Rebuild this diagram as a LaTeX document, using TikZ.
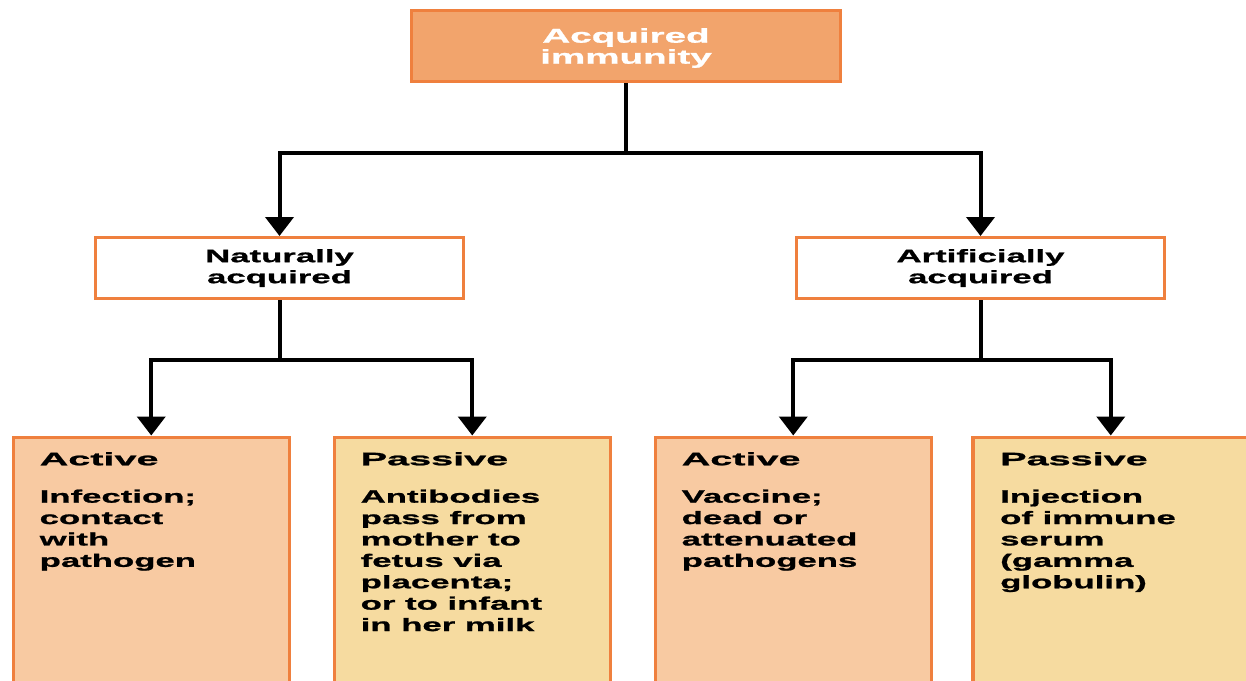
\documentclass[tikz,border=0pt]{standalone}
\usepackage{fontspec}
\newfontfamily\wfb{Liberation Sans Bold}[FakeStretch=1.93,FakeBold=1.2]
\newfontfamily\wfbt{Liberation Sans Bold}[FakeStretch=2.2,FakeBold=1.3]
\usetikzlibrary{arrows.meta,calc}
\definecolor{topfill}{HTML}{F2A46C}
\definecolor{orbrd}{HTML}{EF803E}
\definecolor{peach}{HTML}{F8CAA2}
\definecolor{yell}{HTML}{F6DBA0}
\begin{document}
\begin{tikzpicture}[x=1pt,y=-1pt,
  topbox/.style={draw=orbrd,line width=3pt,fill=topfill,minimum width=429pt,minimum height=71pt,inner sep=0pt},
  midbox/.style={draw=orbrd,line width=3pt,fill=white,minimum width=368pt,minimum height=61pt,inner sep=0pt,
    align=center,font=\wfb\fontsize{18}{21}\selectfont},
  lowbox/.style={draw=orbrd,line width=3.5pt,minimum width=276pt,minimum height=280pt,inner sep=0pt,anchor=north west},
  lowtext/.style={anchor=north west,inner sep=0pt,align=left,font=\wfb\fontsize{18}{21.4}\selectfont},
  conn/.style={line width=4pt},
  arr/.style={line width=4pt,-{Triangle[width=28pt,length=19pt]}}]
\clip (0,0) rectangle (1246,680);
\fill[white] (0,0) rectangle (1246,680);
% top
\node[topbox] (top) at (626,46) {};
\node[text=white,align=center,inner sep=0pt,font=\wfb\fontsize{20}{21}\selectfont] (toptext) at (626,48) {Acquired\\immunity};
% middle
\node[midbox] (nat) at (279.5,268) {Naturally\\acquired};
\node[midbox] (art) at (980.5,268) {Artificially\\acquired};
% bottom boxes
\node[lowbox,fill=peach] (b1) at (11.5,435.5) {};
\node[lowbox,fill=yell]  (b2) at (332.5,435.5) {};
\node[lowbox,fill=peach] (b3) at (653.5,435.5) {};
\node[lowbox,fill=yell]  (b4) at (971,435.5) {};
% texts
\node[lowtext] (t1) at ($(b1.north west)+(28,16.5)$) {{\wfbt Active}\\[16pt]Infection;\\contact\\with\\pathogen};
\node[lowtext] (t2) at ($(b2.north west)+(28,16.5)$) {{\wfbt Passive}\\[16pt]Antibodies\\pass from\\mother to\\fetus via\\placenta;\\or to infant\\in her milk};
\node[lowtext] (t3) at ($(b3.north west)+(28,16.5)$) {{\wfbt Active}\\[16pt]Vaccine;\\dead or\\attenuated\\pathogens};
\node[lowtext] (t4) at ($(b4.north west)+(29,16.5)$) {{\wfbt Passive}\\[16pt]Injection\\of immune\\serum\\(gamma\\globulin)};
% connectors
\coordinate (j1) at ($(top.south)+(0,70)$);
\draw[conn] (top.south) -- (j1);
\draw[arr] (j1) -| (nat.north);
\draw[arr] (j1) -| (art.north);
\coordinate (j2) at ($(nat.south)+(0,60)$);
\coordinate (j3) at ($(art.south)+(0,60)$);
\draw[conn] (nat.south) -- (j2);
\draw[conn] (art.south) -- (j3);
\draw[arr] (j2) -| (b1.north);
\draw[arr] (j2) -| (b2.north);
\draw[arr] (j3) -| (b3.north);
\draw[arr] (j3) -| (b4.north);
\end{tikzpicture}
\end{document}
